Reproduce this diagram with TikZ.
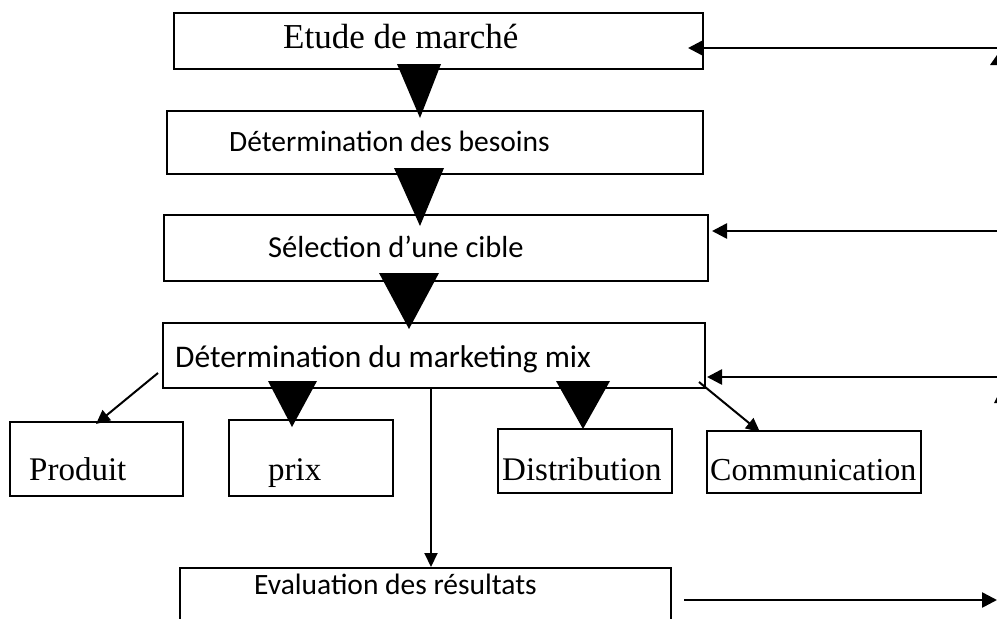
\documentclass[tikz,border=0pt]{standalone}
\usepackage{fontspec}
\newfontfamily\serifface{Liberation Serif}
\newfontfamily\sansface{Carlito}
\usetikzlibrary{arrows.meta}
\begin{document}
\begin{tikzpicture}[x=1pt,y=-1pt,
  box/.style={draw, line width=2pt, inner sep=0pt, anchor=north west},
  stxt/.style={anchor=base west, inner sep=0pt, font=\sansface\fontsize{29.5}{34}\selectfont},
  rtxt/.style={anchor=base west, inner sep=0pt, font=\serifface\fontsize{33}{38}\selectfont},
  flow/.style={line width=2.6pt, -{Triangle[length=15pt,width=15pt]}},
  slim/.style={line width=2pt, -{Triangle[length=14pt,width=13pt]}},
  bigtri/.style={fill=black}
]
\useasboundingbox (0,0) rectangle (997,619);
\clip (0,0) rectangle (997,619);

% main chain of boxes
\node[box, minimum width=529, minimum height=56] (b1) at (173,12) {};
\node[box, minimum width=536, minimum height=63] (b2) at (166,110) {};
\node[box, minimum width=544, minimum height=66] (b3) at (163,214) {};
\node[box, minimum width=542, minimum height=65] (b4) at (162,322) {};

% marketing mix components
\node[box, minimum width=173, minimum height=74] (prod) at (9,421) {};
\node[box, minimum width=164, minimum height=76] (prix) at (228,419) {};
\node[box, minimum width=174, minimum height=64] (dist) at (497,428) {};
\node[box, minimum width=214, minimum height=62] (comm) at (706,430) {};

% evaluation (runs past the lower edge)
\node[box, minimum width=491, minimum height=90] (eval) at (179,567) {};

% labels
\node[rtxt, font=\serifface\fontsize{35}{40}\selectfont] (t1) at (283,48) {Etude de marché};
\node[stxt] (t2) at (229,151) {Détermination des besoins};
\node[stxt, font=\sansface\fontsize{30.5}{35}\selectfont] (t3) at (268,257) {Sélection d’une cible};
\node[stxt, font=\sansface\fontsize{31.5}{36}\selectfont] (t4) at (175,367) {Détermination du marketing mix};
\node[rtxt] (t5) at (29,480) {Produit};
\node[rtxt] (t6) at (268,480) {prix};
\node[rtxt] (t7) at (502,480) {Distribution};
\node[rtxt, font=\serifface\fontsize{32}{38}\selectfont] (t8) at (710,480) {Communication};
\node[stxt] (t9) at (254,594) {Evaluation des résultats};

% large downward heads between steps
\fill[bigtri] (397,64) -- (441,64) -- (420,118) -- cycle;
\fill[bigtri] (394,168) -- (444,168) -- (420,226) -- cycle;
\fill[bigtri] (379,273) -- (439,273) -- (409,329) -- cycle;
\fill[bigtri] (268,381) -- (317,381) -- (292,427) -- cycle;
\fill[bigtri] (556,381) -- (610,381) -- (583,429) -- cycle;

% thin connectors from the marketing mix box
\coordinate (pa) at (158,373);
\coordinate (pb) at (96,424);
\coordinate (ca) at (699,382);
\coordinate (cb) at (760,432);
\draw[slim] (pa) -- (pb);
\draw[slim] (ca) -- (cb);
\draw[slim] (b4.south -| 431,0) -- (eval.north -| 431,0);

% feedback arrows entering from the right
\coordinate (r1) at (997,48);
\coordinate (r2) at (997,231);
\coordinate (r3) at (997,377);
\draw[flow] (r1) -- (688,48);
\draw[flow] (r2) -- (712,231);
\draw[flow] (r3) -- (707,377);

% outgoing arrow from the evaluation
\coordinate (o1) at (684,600);
\coordinate (o2) at (997,600);
\draw[flow] (o1) -- (o2);

% heads cut by the right edge
\fill (990,65) -- (997,65) -- (997,55) -- cycle;
\fill (994,403) -- (997,403) -- (997,397) -- cycle;
\end{tikzpicture}
\end{document}
